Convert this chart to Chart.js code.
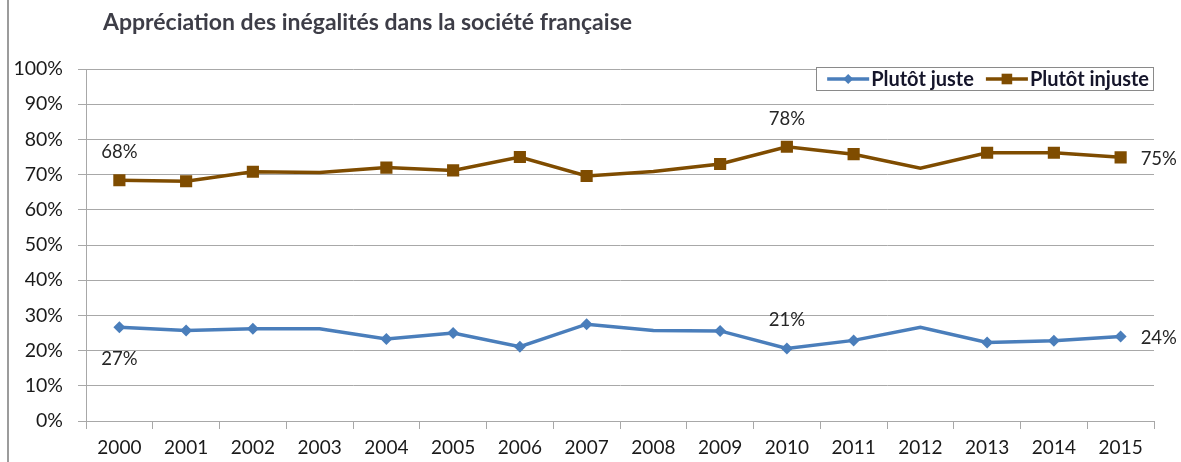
<!DOCTYPE html>
<html><head><meta charset="utf-8">
<script src="https://cdn.jsdelivr.net/npm/chart.js@4.4.1/dist/chart.umd.min.js"></script>
<style>
html,body{margin:0;padding:0;background:#fff;}
#wrap{position:relative;width:1181px;height:462px;overflow:hidden;}
#edge{position:absolute;left:7px;top:0;width:2px;height:462px;background:#9c9c9c;}
canvas{display:block;position:absolute;left:0;top:0;}
</style></head><body>
<div id="wrap"><canvas id="c" width="1181" height="462"></canvas><div id="edge"></div></div>
<script>
const chartTitle = 'Appréciation des inégalités dans la société française';
const years = ['2000','2001','2002','2003','2004','2005','2006','2007','2008','2009','2010','2011','2012','2013','2014','2015'];
const plutotJuste   = [26.6, 25.7, 26.2, 26.2, 23.3, 25.0, 21.1, 27.5, 25.7, 25.6, 20.6, 22.9, 26.6, 22.3, 22.8, 24.0];
const plutotInjuste = [68.4, 68.1, 70.8, 70.6, 72.0, 71.2, 75.0, 69.6, 70.9, 73.0, 77.9, 75.8, 71.8, 76.2, 76.2, 74.9];
const seriesNames = ['Plutôt juste', 'Plutôt injuste'];
const yearsWithoutMarker = ['2003', '2008', '2012'];
const yTickValues = [0, 10, 20, 30, 40, 50, 60, 70, 80, 90, 100];
// labelled points: [series index, year, placement]
const labelledPoints = [
  [1, '2000', 'above'], [0, '2000', 'below'],
  [1, '2010', 'above'], [0, '2010', 'above'],
  [1, '2015', 'right'], [0, '2015', 'right']
];

const FONT = 'Lato';
const GRID = '#a8a8a8';

const titlePlugin = {
  id: 'excelTitle',
  afterDraw(chart) {
    const ctx = chart.ctx;
    ctx.save();
    ctx.font = 'bold 23px ' + FONT;
    ctx.fillStyle = '#3d3d47';
    ctx.textAlign = 'left';
    ctx.textBaseline = 'middle';
    ctx.fillText(chartTitle, 103, 23);
    ctx.restore();
  }
};

const dataLabelPlugin = {
  id: 'excelDataLabels',
  afterDatasetsDraw(chart) {
    const ctx = chart.ctx;
    const xs = chart.scales.x, ys = chart.scales.y;
    ctx.save();
    ctx.font = '18.5px ' + FONT;
    ctx.fillStyle = '#262626';
    ctx.textBaseline = 'middle';
    labelledPoints.forEach(([si, yr, place]) => {
      const i = years.indexOf(yr);
      const v = chart.data.datasets[si].data[i];
      const px = xs.getPixelForValue(i);
      const py = ys.getPixelForValue(v);
      const txt = Math.round(v) + '%';
      if (place === 'above') { ctx.textAlign = 'center'; ctx.fillText(txt, px, py - 28); }
      else if (place === 'below') { ctx.textAlign = 'center'; ctx.fillText(txt, px, py + 32); }
      else { ctx.textAlign = 'left'; ctx.fillText(txt, px + 20, py + 2); }
    });
    ctx.restore();
  }
};

const legendPlugin = {
  id: 'excelLegend',
  afterDraw(chart) {
    const ctx = chart.ctx, ca = chart.chartArea;
    ctx.save();
    ctx.font = 'bold 20px ' + FONT;
    const sample = 42, gapT = 2, gapItem = 12, padL = 11, padR = 5;
    const items = chart.data.datasets.map(ds => ({ ds, w: ctx.measureText(ds.label).width }));
    let total = padL + padR;
    items.forEach((it, i) => { total += sample + gapT + it.w + (i ? gapItem : 0); });
    const boxR = ca.right, boxL = boxR - total, boxT = 67, boxB = 91;
    ctx.fillStyle = '#fff';
    ctx.fillRect(boxL, boxT, total, boxB - boxT);
    ctx.strokeStyle = '#8a8a8a';
    ctx.lineWidth = 1;
    ctx.strokeRect(Math.round(boxL) + 0.5, boxT + 0.5, Math.round(total) - 1, boxB - boxT - 1);
    let x = boxL + padL;
    const cy = (boxT + boxB) / 2;
    items.forEach((it, i) => {
      if (i) x += gapItem;
      const ds = it.ds;
      ctx.strokeStyle = ds.borderColor;
      ctx.lineWidth = 3.5;
      ctx.beginPath(); ctx.moveTo(x, cy); ctx.lineTo(x + sample, cy); ctx.stroke();
      ctx.fillStyle = ds.borderColor;
      Chart.helpers.drawPoint(ctx, { pointStyle: ds.pointStyle, radius: ds.pointStyle === 'rect' ? 7.5 : 5, borderWidth: 0, rotation: 0 }, x + sample / 2, cy);
      ctx.fillStyle = '#15152a';
      ctx.textAlign = 'left';
      ctx.textBaseline = 'middle';
      ctx.fillText(ds.label, x + sample + gapT, cy + 1);
      x += sample + gapT + it.w;
    });
    ctx.restore();
  }
};

const markerRadius = (r) => (c) => yearsWithoutMarker.includes(years[c.dataIndex]) ? 0 : r;

new Chart(document.getElementById('c'), {
  type: 'line',
  data: {
    labels: years,
    datasets: [
      { label: seriesNames[0], data: plutotJuste, borderColor: '#4a7ebb', backgroundColor: '#4a7ebb',
        pointBackgroundColor: '#4a7ebb', borderWidth: 3.5, pointStyle: 'rectRot', pointRadius: markerRadius(6),
        pointBorderWidth: 0, tension: 0, fill: false },
      { label: seriesNames[1], data: plutotInjuste, borderColor: '#7f4c00', backgroundColor: '#7f4c00',
        pointBackgroundColor: '#7f4c00', borderWidth: 3.5, pointStyle: 'rect', pointRadius: markerRadius(8.6),
        pointBorderWidth: 0, tension: 0, fill: false }
    ]
  },
  options: {
    responsive: false,
    animation: false,
    events: [],
    layout: { padding: { top: 69, right: 27, bottom: 0, left: 0 } },
    plugins: { legend: { display: false }, title: { display: false }, tooltip: { enabled: false } },
    scales: {
      x: {
        offset: true,
        grid: { offset: true, drawOnChartArea: false, color: GRID, tickLength: 8 },
        border: { color: GRID, width: 1 },
        ticks: { color: '#1a1a1a', font: { family: FONT, size: 19 }, padding: 7, maxRotation: 0, autoSkip: false },
        afterFit(s) { s.height = 41; }
      },
      y: {
        min: 0, max: 100,
        afterBuildTicks(s) { s.ticks = yTickValues.map(v => ({ value: v })); },
        ticks: { callback: v => v + '%', color: '#1a1a1a', font: { family: FONT, size: 19.5 }, padding: 15 },
        grid: { color: GRID, tickLength: 8 },
        border: { color: GRID, width: 1 },
        afterFit(s) { s.width = 86; }
      }
    }
  },
  plugins: [titlePlugin, dataLabelPlugin, legendPlugin]
});
</script>
</body></html>
